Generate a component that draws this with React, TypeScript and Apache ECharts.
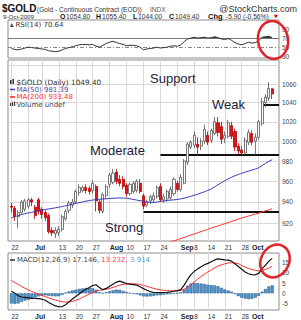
import React, { useEffect, useRef } from 'react';
import * as echarts from 'echarts';

const dates = ['06-22','06-23','06-24','06-25','06-26','06-29','06-30','07-01','07-02','07-06','07-07','07-08','07-09','07-10','07-13','07-14','07-15','07-16','07-17','07-20','07-21','07-22','07-23','07-24','07-27','07-28','07-29','07-30','07-31','08-03','08-04','08-05','08-06','08-07','08-10','08-11','08-12','08-13','08-14','08-17','08-18','08-19','08-20','08-21','08-24','08-25','08-26','08-27','08-28','08-31','09-01','09-02','09-03','09-04','09-08','09-09','09-10','09-11','09-14','09-15','09-16','09-17','09-18','09-21','09-22','09-23','09-24','09-25','09-28','09-29','09-30','10-01','10-02','10-05','10-06','10-07','10-08','10-09'];

const opens = [936,934,926,930,933,936,942,935,942,933,930,927,913,910,911,914,924,932,937,940,949,951,954,953,951,955,940,931,946,957,959,969,962,962,956,948,950,951,958,946,937,941,942,945,955,942,943,944,948,958,952,958,979,994,996,997,995,1000,1006,1001,1008,1019,1015,1003,1005,1016,1010,995,991,988,999,1008,1000,1004,1018,1040,1045,1054.8];
const closes = [935,926,930,940,941,942,940,927,931,928,925,912,911,913,914,926,931,939,940,950,954,954,951,950,958,941,932,947,955,966,968,960,958,955,948,957,958,960,950,936,940,945,946,954,942,945,950,952,962,952,964,980,997,999,1006,994,1000,1012,999,1011,1020,1009,1002,1006,1019,1005,994,990,988,1001,1009,999,1004,1020,1041,1046,1055.3,1049.4];
const lows = [930,922,915,929,931,934,936,924,928,924,922,910,908,906,908,912,922,929,934,938,946,949,948,947,948,931,929,929,943,954,957,957,955,952,945,946,948,949,948,933,935,938,939,943,940,939,940,942,946,950,950,957,976,992,993,985,991,997,996,998,1006,1005,997,998,1003,1002,990,987,986,986,996,996,986,1001,1016,1035,1042,1044];
const highs = [939,936,932,942,943,944,944,937,944,935,932,929,916,916,917,928,933,941,943,952,957,956,957,955,961,957,942,949,957,968,972,972,966,965,958,959,960,962,962,948,942,947,949,956,958,948,952,955,964,960,967,982,999,1001,1010,1004,1003,1017,1010,1013,1025,1025,1020,1010,1022,1020,1013,998,995,1004,1012,1011,1008,1022,1045,1049,1062,1055.4];

const ma50 = [925,926,927,928,928.8,929.5,930.2,930.8,931.5,932.2,932.8,933.3,933.8,934.4,935,935.6,936.3,937,937.8,938.6,939.3,940,940.7,941.3,941.8,942.2,942.5,942.8,943,943.3,943.5,943.7,943.8,943.8,943.5,943,942.4,941.8,941.2,940.5,940,939.6,939.5,939.8,940.5,941,941.4,941.7,942,942.4,942.9,943.6,944.5,945.4,946.4,947.5,948.6,949.8,951.1,952.5,954.5,956.6,958.6,960.5,962.4,964,965.4,966.7,967.9,969,970,971,972,973.3,975.5,977.7,979.6,981.39];
const ma200Start = 45;
const ma200 = [900.5,901.4,902.6,903.5,904.4,905.6,906.5,907.6,908.8,909.7,910.9,912.1,913,914.2,915.4,916.3,917.2,918.4,919.3,920.4,921.6,922.5,923.7,924.8,925.6,926.6,927.6,928.4,929.2,930.4,931.6,932.5,933.48];

const rsi = [47,45,44,46,48,50,49,48,47,46,45,42,41,40,41,44,47,49,51,53,55,56,56,55,56,52,50,54,58,61,63,60,58,56,53,54,54,53,50,44,46,47,48,50,48,49,50,52,53,52,55,62,68,70,72,70,71,72,70,71,73,71,68,67,69,65,60,57,55,58,61,59,60,64,72,73,74,70.64];

const macd = [1,0,-1.2,-1.8,-2,-2.2,-2.4,-2.5,-2.6,-2.9,-3.4,-4.5,-5.4,-6.2,-6.6,-6.5,-5.6,-4.2,-2.8,-1.6,-0.3,1,2,2.8,3.8,4.2,2.8,1.8,2.4,3.5,4.5,5.5,6,5.4,4.8,4.5,4.3,4,3.2,2.3,1.5,0.8,0.4,0.4,0.3,0.4,0.5,0.7,1,1.3,1.8,4,6.8,9.2,10.8,12,13,14,14.7,15.5,16.4,16.9,16.7,16.4,16.3,15.8,14.5,13.2,11.8,10.5,9.6,9.2,9.1,9.8,12,13.8,15.8,17.146];
const signal = [6.3,5.3,4.4,3.4,2.5,1.7,0.9,0.2,-0.4,-1,-1.6,-2.2,-2.8,-3.3,-3.8,-4.1,-4.3,-4.3,-4,-3.5,-2.8,-2,-1.2,-0.4,0.4,1.1,1.5,1.7,2,2.4,2.9,3.5,4,4.4,4.6,4.7,4.7,4.6,4.3,3.9,3.4,2.9,2.4,2,1.7,1.5,1.3,1.2,1.2,1.2,1.4,2,3.1,4.4,5.7,7,8.2,9.4,10.5,11.5,12.5,13.4,14,14.5,14.9,15,14.9,14.6,13.6,12.9,12.2,11.7,11.3,11,11.2,11.7,12.4,13.232];
const hist = [-5,-5.2,-5,-4.2,-3.6,-3.2,-2.8,-2,-1.5,-1.2,-1,-1.2,-1.4,-1.5,-1.4,-0.8,0.3,0.9,1.4,1.8,2.2,2.4,2.6,2.6,2.5,1.8,0.5,0.1,0.5,1,1.5,1.8,1.7,1.2,0.6,0.2,-0.2,-0.5,-1,-1.5,-1.6,-1.5,-1.3,-1,-0.9,-0.7,-0.5,-0.4,-0.2,0.1,0.4,2,3.7,4.8,5.1,5,4.8,4.6,4.2,4,3.9,3.5,2.7,1.9,1.4,0.8,-0.4,-1.4,-2.2,-2.6,-2.9,-2.7,-2.2,-1.2,0.8,2.1,3.4,3.914];

const supportNames = ['Moderate', 'Strong', 'Weak'];
const supportLevels = [986.4, 930.6, 1037.6];
const supportFrom = ['08-24', '08-17', '10-06'];

const priceTicks = [920, 940, 960, 980, 1000, 1020, 1040, 1060];
const priceGrid = [920, 940, 960, 980, 1000, 1020, 1040, 1060, 1080];
const rsiTicks = [30, 50, 70, 90];
const macdTicks = [-5, 0, 5, 10, 15];

const xTickDates = ['06-22','07-01','07-13','07-20','07-27','08-03','08-10','08-17','08-24','09-01','09-08','09-14','09-21','09-28','10-01'];
const xTickLabels = ['22','Jul','13','20','27','Aug','10','17','24','Sep','8','14','21','28','Oct'];
const monthLabels = ['Jul', 'Aug', 'Sep', 'Oct'];
const gridDates = ['06-22','06-29','07-06','07-13','07-20','07-27','08-03','08-10','08-17','08-24','08-31','09-08','09-14','09-21','09-28','10-05'];

const cats = ['pre', ...dates, 'post1', 'post2'];
const ci = (i: number) => i + 1;

const FONT = '"Liberation Sans", Arial, sans-serif';
const SFONT = '"DejaVu Sans", Verdana, sans-serif';

const RSI_MIN = 26;
const RSI_MAX = 110;
const RSI_TOP = 20;
const RSI_H = 38;

function buildOption() {
  const labelMap: Record<string, string> = {};
  xTickDates.forEach((d, i) => (labelMap[d] = xTickLabels[i]));
  const gridSet = new Set(gridDates);

  const xBase = (gridIndex: number, showLabels: boolean, split: boolean) => ({
    type: 'category',
    gridIndex,
    data: cats,
    boundaryGap: false,
    axisLine: { show: false },
    axisTick: { show: false },
    splitLine: {
      show: split,
      interval: (i: number) => gridSet.has(cats[i]),
      lineStyle: { color: '#d9d9d9', width: 1 },
    },
    axisLabel: {
      show: showLabels,
      interval: (_i: number, v: string) => labelMap[v] !== undefined,
      formatter: (v: string) => {
        const t = labelMap[v];
        if (t === undefined) return '';
        return monthLabels.includes(t) ? '{b|' + t + '}' : t;
      },
      align: 'left',
      fontFamily: FONT,
      fontSize: 6.5,
      color: '#333',
      margin: 3,
      rich: { b: { fontWeight: 'bold', fontFamily: FONT, fontSize: 7, color: '#222' } },
    },
  });

  const yLabel = (vals: number[]) => ({
    customValues: vals, fontFamily: FONT, fontSize: 6.5, color: '#444', margin: 3,
    formatter: (v: number) => String(Math.round(v)),
  });

  const candleData = dates.map((_, i) => [ci(i), opens[i], closes[i], lows[i], highs[i]]);

  const supportLines = supportNames.map((_, k) => [
    { coord: [ci(dates.indexOf(supportFrom[k])), supportLevels[k]] },
    { coord: [cats.length - 1, supportLevels[k]] },
  ]);

  const t = (text: string, x: number, y: number, font: string, fill = '#222', extra: any = {}) => ({
    type: 'text',
    z: 100,
    style: { text, x, y, font, fill, textVerticalAlign: 'middle', ...extra },
  });

  const shadeH = RSI_H * (RSI_MAX - 70) / (RSI_MAX - RSI_MIN);

  return {
    animation: false,
    backgroundColor: '#ffffff',
    grid: [
      { left: 8, top: RSI_TOP, width: 271, height: RSI_H, show: true, borderColor: '#8c8c8c', borderWidth: 1, backgroundColor: '#fff' },
      { left: 8, top: 60, width: 271, height: 181, show: true, borderColor: '#8c8c8c', borderWidth: 1, backgroundColor: '#fff' },
      { left: 8, top: 253, width: 271, height: 58, show: true, borderColor: '#8c8c8c', borderWidth: 1, backgroundColor: '#fff' },
      { left: 8, top: RSI_TOP, width: 271, height: shadeH, show: false },
    ],
    xAxis: [xBase(0, false, false), xBase(1, true, true), xBase(2, true, true), xBase(3, false, false)],
    yAxis: [
      {
        type: 'value', gridIndex: 0, position: 'right', min: RSI_MIN, max: RSI_MAX,
        axisLine: { show: false }, axisTick: { show: false },
        splitLine: { show: false }, axisLabel: yLabel(rsiTicks),
      },
      {
        type: 'log', logBase: 10, gridIndex: 1, position: 'right', min: 903.3, max: 1086.3,
        axisLine: { show: false }, axisTick: { show: false, customValues: priceGrid },
        splitLine: { show: true, lineStyle: { color: '#d9d9d9', width: 1 } },
        axisLabel: yLabel(priceTicks),
      },
      {
        type: 'value', gridIndex: 2, position: 'right', min: -8.2, max: 19.8,
        axisLine: { show: false }, axisTick: { show: false },
        splitLine: { show: false }, axisLabel: yLabel(macdTicks),
      },
      {
        type: 'value', gridIndex: 3, min: 70, max: RSI_MAX, show: false,
      },
    ],
    series: [
      {
        type: 'line', xAxisIndex: 3, yAxisIndex: 3, symbol: 'none', z: 4, clip: true,
        data: rsi.map((v, i) => [ci(i), v]),
        lineStyle: { width: 0 },
        areaStyle: { origin: 'start', color: '#2b3a2b', opacity: 1 },
      },
      {
        type: 'line', xAxisIndex: 0, yAxisIndex: 0, symbol: 'none', z: 5,
        data: rsi.map((v, i) => [ci(i), v]),
        lineStyle: { color: '#333', width: 1 },
        markLine: {
          silent: true, symbol: 'none', label: { show: false },
          data: [
            { yAxis: 70, lineStyle: { color: '#777', width: 1, type: 'solid' } },
            { yAxis: 50, lineStyle: { color: '#888', width: 1, type: [4, 2, 1, 2] } },
          ],
        },
      },
      {
        type: 'candlestick', xAxisIndex: 1, yAxisIndex: 1, z: 5,
        data: candleData,
        encode: { x: 0, y: [1, 2, 3, 4] },
        barWidth: 2.6,
        itemStyle: { color: '#ffffff', borderColor: '#555', color0: '#e3131b', borderColor0: '#b30000', borderWidth: 0.8 },
        markLine: {
          silent: true, symbol: 'none', label: { show: false },
          lineStyle: { color: '#111', width: 2, type: 'solid' },
          data: supportLines,
        },
      },
      {
        type: 'line', xAxisIndex: 1, yAxisIndex: 1, symbol: 'none', z: 6,
        data: ma50.map((v, i) => [ci(i), v]),
        lineStyle: { color: '#3c3cb4', width: 1 },
      },
      {
        type: 'line', xAxisIndex: 1, yAxisIndex: 1, symbol: 'none', z: 6,
        data: ma200.map((v, k) => [ci(ma200Start + k), v]),
        lineStyle: { color: '#ff3030', width: 1 },
      },
      {
        type: 'bar', xAxisIndex: 2, yAxisIndex: 2, z: 3,
        data: hist.map((v, i) => [ci(i), v]),
        barWidth: 3,
        itemStyle: { color: '#4d92c9', borderColor: '#2b5f8c', borderWidth: 0.5 },
      },
      {
        type: 'line', xAxisIndex: 2, yAxisIndex: 2, symbol: 'none', z: 6,
        data: signal.map((v, i) => [ci(i), v]),
        lineStyle: { color: '#ff3030', width: 1 },
      },
      {
        type: 'line', xAxisIndex: 2, yAxisIndex: 2, symbol: 'none', z: 7,
        data: macd.map((v, i) => [ci(i), v]),
        lineStyle: { color: '#111', width: 1.2 },
      },
    ],
    graphic: [
      t('$GOLD', 2, 8.5, `bold 10px ${FONT}`, '#111'),
      t('(Gold - Continuous Contract (EOD))', 37, 9, `6.6px ${FONT}`, '#333'),
      t('INDX', 150, 9, `6.5px ${FONT}`, '#555'),
      t('@StockCharts.com', 297, 9, `9px ${FONT}`, '#333', { textAlign: 'right' }),
      t('9-Oct-2009', 3, 16, `6.2px ${FONT}`, '#333'),
      t('O', 60, 16, `bold 7px ${FONT}`, '#111'),
      t('1054.80', 66, 16, `6.7px ${FONT}`, '#333'),
      t('H', 96, 16, `bold 7px ${FONT}`, '#111'),
      t('1055.40', 102, 16, `6.7px ${FONT}`, '#333'),
      t('L', 133, 16, `bold 7px ${FONT}`, '#111'),
      t('1044.00', 138, 16, `6.7px ${FONT}`, '#333'),
      t('C', 169, 16, `bold 7px ${FONT}`, '#111'),
      t('1049.40', 175, 16, `6.7px ${FONT}`, '#333'),
      t('Chg', 208, 16, `bold 7.5px ${FONT}`, '#111'),
      t('-5.90 (-0.56%)', 226, 16, `6.7px ${FONT}`, '#333'),
      t('▼', 274, 16, `5px ${SFONT}`, '#d00000'),
      { type: 'polygon', z: 100, shape: { points: [[10, 27], [11.5, 23], [13, 25.5], [14, 27]] }, style: { fill: '#3a5a3a' } },
      t('RSI(14) 70.64', 15.5, 25, `7px ${SFONT}`, '#333'),
      { type: 'rect', z: 100, shape: { x: 10, y: 80, width: 1.5, height: 4 }, style: { fill: '#333' } },
      { type: 'rect', z: 100, shape: { x: 12.5, y: 79, width: 1.5, height: 5 }, style: { fill: '#333' } },
      t('$GOLD (Daily) 1049.40', 16.5, 82, `7.3px ${SFONT}`, '#333'),
      { type: 'line', z: 100, shape: { x1: 10, y1: 89.5, x2: 15, y2: 89.5 }, style: { stroke: '#4040b0', lineWidth: 1.5 } },
      t('MA(50) 981.39', 16.5, 89.5, `7px ${SFONT}`, '#4a4aa8'),
      { type: 'line', z: 100, shape: { x1: 10, y1: 97, x2: 15, y2: 97 }, style: { stroke: '#ff2020', lineWidth: 1.5 } },
      t('MA(200) 933.48', 16.5, 97, `7px ${SFONT}`, '#ff3030'),
      { type: 'rect', z: 100, shape: { x: 10, y: 103, width: 1.2, height: 3 }, style: { fill: '#444' } },
      { type: 'rect', z: 100, shape: { x: 12, y: 102, width: 1.2, height: 4 }, style: { fill: '#444' } },
      { type: 'rect', z: 100, shape: { x: 14, y: 101.5, width: 1.2, height: 4.5 }, style: { fill: '#444' } },
      t('Volume undef', 16.5, 104.5, `7px ${SFONT}`, '#444'),
      { type: 'line', z: 100, shape: { x1: 10, y1: 260, x2: 15, y2: 260 }, style: { stroke: '#333', lineWidth: 1.5 } },
      t('MACD(12,26,9) 17.146,', 17, 260, `7px ${SFONT}`, '#444'),
      t('13.232,', 101, 260, `7px ${SFONT}`, '#ff4040'),
      t('3.914', 130, 260, `7px ${SFONT}`, '#5a9bd0'),
      t('Support', 150, 78, `13px ${FONT}`, '#1c2238'),
      t('Weak', 212, 104, `13px ${FONT}`, '#1c2238'),
      t('Moderate', 90, 150, `13px ${FONT}`, '#1c2238'),
      t('Strong', 105, 227, `13px ${FONT}`, '#1c2238'),
      { type: 'ellipse', z: 120, x: 273, y: 40, rotation: 0.15, shape: { cx: 0, cy: 0, rx: 15, ry: 19 }, style: { fill: 'none', stroke: '#e4222a', lineWidth: 2.5 } },
      { type: 'ellipse', z: 120, x: 275, y: 261, rotation: -0.5, shape: { cx: 0, cy: 0, rx: 14, ry: 17 }, style: { fill: 'none', stroke: '#e4222a', lineWidth: 2.5 } },
    ],
  };
}

export default function App() {
  const ref = useRef<HTMLDivElement>(null);
  useEffect(() => {
    const chart = echarts.init(ref.current!, null, { renderer: 'svg' });
    chart.setOption(buildOption() as any);
    return () => chart.dispose();
  }, []);
  return <div ref={ref} style={{ width: 301, height: 320, position: 'absolute', left: 0, top: 0 }} />;
}
